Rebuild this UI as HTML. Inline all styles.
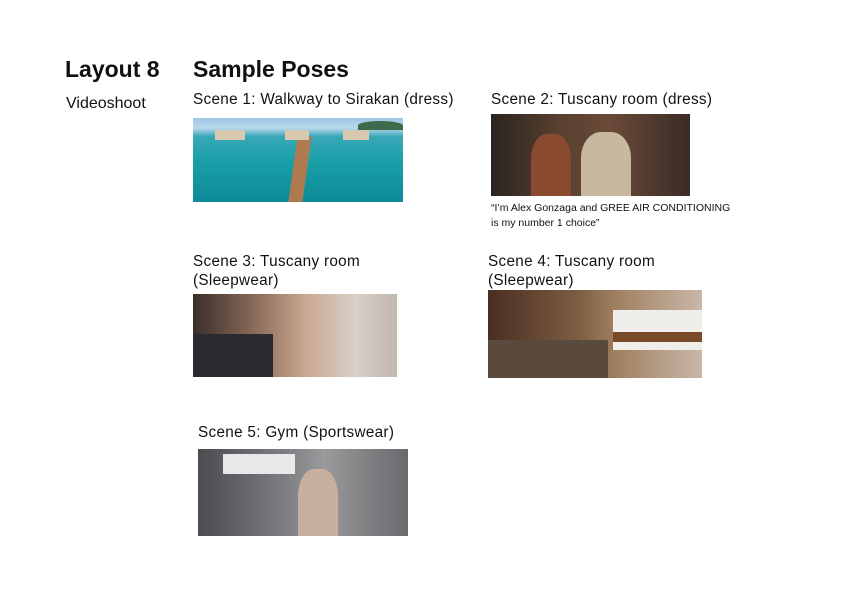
<!DOCTYPE html>
<html><head><meta charset="utf-8">
<style>
body{margin:0;width:842px;height:596px;background:#fff;position:relative;overflow:hidden;font-family:"Liberation Sans",sans-serif;color:#111}
.a{position:absolute;white-space:nowrap}
.h{font-weight:bold;font-size:23px}
.c{font-size:15.3px;letter-spacing:0.3px}
.img{position:absolute}
</style></head><body>
<div class="a h" style="left:65px;top:56px">Layout 8</div>
<div class="a h" style="left:193px;top:56px">Sample Poses</div>
<div class="a" style="left:66px;top:95px;font-size:16px">Videoshoot</div>

<div class="a c" style="left:193px;top:91px">Scene 1: Walkway to Sirakan (dress)</div>
<div class="img" style="left:193px;top:118px;width:210px;height:84px;background:linear-gradient(180deg,#9cc6e4 0%,#b8d8ec 12%,#3aa8b8 22%,#1aa0a8 50%,#0e8a98 100%)">
 <div style="position:absolute;left:100px;top:18px;width:14px;height:66px;background:#b07a50;transform:skewX(-8deg)"></div>
 <div style="position:absolute;left:22px;top:12px;width:30px;height:10px;background:#d8c8b0"></div>
 <div style="position:absolute;left:92px;top:12px;width:24px;height:10px;background:#d8c8b0"></div>
 <div style="position:absolute;left:150px;top:12px;width:26px;height:10px;background:#d8c8b0"></div>
 <div style="position:absolute;left:165px;top:3px;width:45px;height:9px;background:#3d6a4a;border-radius:50% 50% 0 0"></div>
</div>

<div class="a c" style="left:491px;top:91px">Scene 2: Tuscany room (dress)</div>
<div class="img" style="left:491px;top:114px;width:199px;height:82px;background:linear-gradient(90deg,#2a2420 0%,#5a4030 35%,#6a4a38 60%,#3a2c26 100%)">
 <div style="position:absolute;left:40px;top:20px;width:40px;height:62px;background:#8a4a30;border-radius:40% 40% 0 0"></div>
 <div style="position:absolute;left:90px;top:18px;width:50px;height:64px;background:#c8b8a0;border-radius:40% 40% 0 0"></div>
</div>
<div class="a" style="left:491px;top:201px;font-size:10.5px;line-height:15px">“I’m Alex Gonzaga and GREE AIR CONDITIONING<br>is my number 1 choice”</div>

<div class="a c" style="left:193px;top:252px;line-height:19px">Scene 3: Tuscany room<br>(Sleepwear)</div>
<div class="img" style="left:193px;top:294px;width:204px;height:83px;background:linear-gradient(90deg,#3a2e2a 0%,#8a6a58 30%,#c8a890 55%,#d8d0c8 80%,#c0b8b0 100%)">
 <div style="position:absolute;left:0;top:40px;width:80px;height:43px;background:#2a2a30"></div>
</div>

<div class="a c" style="left:488px;top:252px;line-height:19px">Scene 4: Tuscany room<br>(Sleepwear)</div>
<div class="img" style="left:488px;top:290px;width:214px;height:88px;background:linear-gradient(90deg,#4a2e22 0%,#7a5a40 40%,#a08060 60%,#c8b8a8 100%)">
 <div style="position:absolute;left:125px;top:20px;width:89px;height:40px;background:#f0eeea"></div>
 <div style="position:absolute;left:125px;top:42px;width:89px;height:10px;background:#7a4a28"></div>
 <div style="position:absolute;left:0;top:50px;width:120px;height:38px;background:#5a4a3e"></div>
</div>

<div class="a c" style="left:198px;top:424px">Scene 5: Gym (Sportswear)</div>
<div class="img" style="left:198px;top:449px;width:210px;height:87px;background:linear-gradient(90deg,#4a4c50 0%,#7a7c80 40%,#9a9a9c 60%,#6a6a6e 100%)">
 <div style="position:absolute;left:25px;top:5px;width:72px;height:20px;background:#e8e8e8"></div>
 <div style="position:absolute;left:100px;top:20px;width:40px;height:67px;background:#c8b0a0;border-radius:40% 40% 0 0"></div>
</div>
</body></html>
